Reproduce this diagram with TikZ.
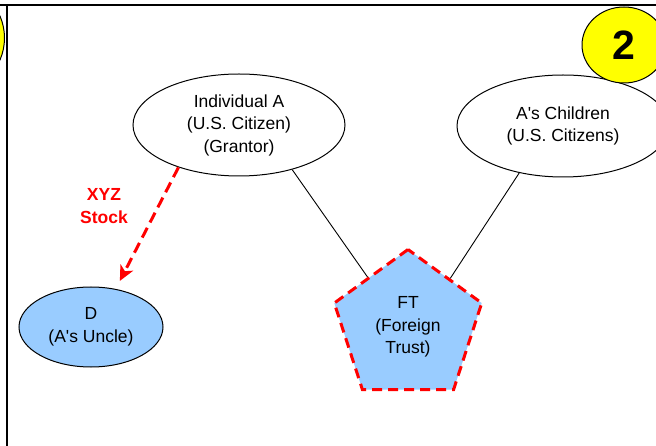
\documentclass[tikz,border=0pt]{standalone}
\usepackage{fontspec}
\setmainfont{Liberation Sans}
\usetikzlibrary{shapes.geometric, arrows.meta}
\definecolor{lblue}{HTML}{99CCFF}
\definecolor{ylw}{HTML}{FFFF00}
\begin{document}
\begin{tikzpicture}[
    x=1pt, y=-1pt,
    every node/.style={font=\fontsize{17.5}{22.5}\selectfont, align=center},
    party/.style={ellipse, draw=black, line width=1pt, inner sep=0pt},
    trust/.style={regular polygon, regular polygon sides=5, fill=lblue, draw=red,
        line width=3pt, dash pattern=on 10pt off 6pt, minimum size=155pt, inner sep=0pt},
    tie/.style={black, line width=0.9pt},
    gift/.style={red, line width=3pt, dash pattern=on 11pt off 6pt,
        -{Stealth[length=15pt, width=14pt, inset=4pt]}},
    badge/.style={ellipse, draw=black, line width=1pt, fill=ylw, inner sep=0pt}
]
\useasboundingbox (0,0) rectangle (656,446);
\clip (0,0) rectangle (656,446);
% frame
\draw[line width=2pt] (0,5) -- (656,5);
\draw[line width=1.5pt] (7,5) -- (7,446);
\node[badge, minimum width=110pt, minimum height=110pt] (prev) at (-50.5,38) {};
% parties
\node[party, minimum width=212pt, minimum height=102pt] (indA) at (239,125)
    {Individual A\\(U.S. Citizen)\\(Grantor)};
\node[party, minimum width=212pt, minimum height=102pt] (kids) at (563,126)
    {A\textquotesingle s Children\\(U.S. Citizens)};
\node[party, fill=lblue, minimum width=144pt, minimum height=80pt] (uncle) at (91,327)
    {D\\(A\textquotesingle s Uncle)};
\node[trust] (ft) at (408,327) {FT\\(Foreign\\Trust)};
% connectors
\draw[tie] (indA.-40) -- (ft.129);
\draw[tie] (kids.-133) -- (ft.49);
\draw[gift, shorten >=9pt] (indA.-145) -- (uncle.57);
\node[text=red, font=\fontsize{17.5}{22.5}\selectfont\bfseries] (xyz) at (104,206) {XYZ\\Stock};
% step badge
\node[badge, minimum width=84pt, minimum height=76pt, font=\fontsize{41}{41}\selectfont\bfseries]
    (two) at (624,45) {2};
\end{tikzpicture}
\end{document}
